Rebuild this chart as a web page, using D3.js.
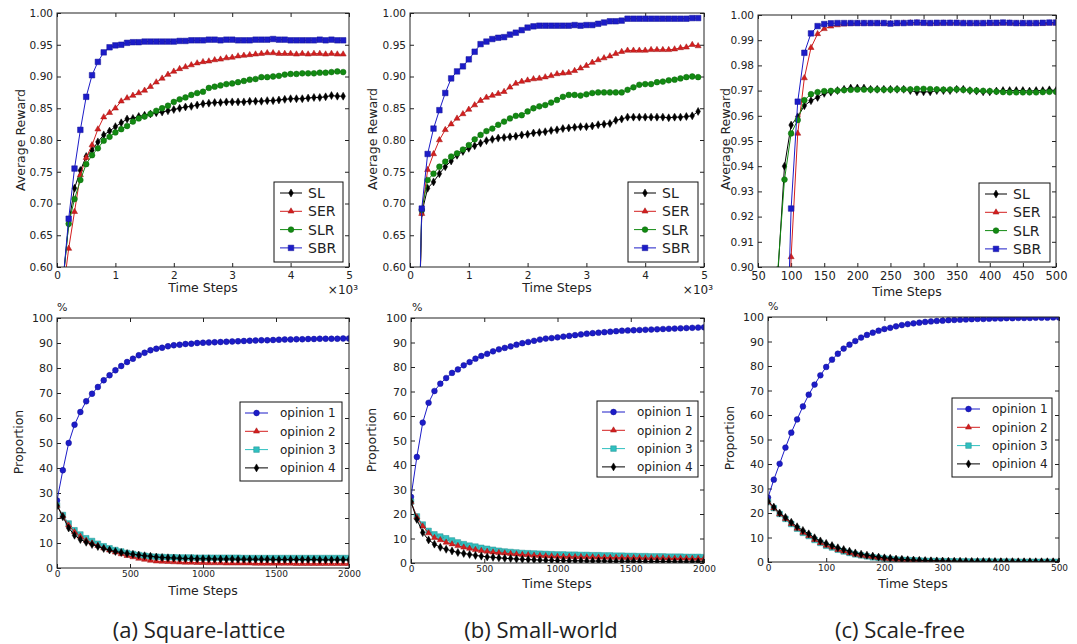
<!DOCTYPE html>
<html>
<head>
<meta charset="utf-8">
<script src="https://cdn.jsdelivr.net/npm/d3@7"></script>
<style>
body { margin: 0; background: #fff; }
text { font-family: "DejaVu Sans", sans-serif; fill: #222; }
.caption { font-family: "Open Sans", sans-serif; font-size: 22px; }
</style>
</head>
<body>
<script>
/* ---- data ---- */

// top row: average reward
var rewardSteps = [100,200,300,400,500,600,700,800,900,1000,
  1100,1200,1300,1400,1500,1600,1700,1800,1900,2000,
  2100,2200,2300,2400,2500,2600,2700,2800,2900,3000,
  3100,3200,3300,3400,3500,3600,3700,3800,3900,4000,
  4100,4200,4300,4400,4500,4600,4700,4800,4900];
var rewardTicksX = [0,1000,2000,3000,4000,5000];
var rewardTicksY = [0.60,0.65,0.70,0.75,0.80,0.85,0.90,0.95,1.00];

var latticeSL = [0.575,0.668,0.724,0.752,0.774,0.784,0.797,0.808,0.814,0.821,
  0.827,0.833,0.834,0.837,0.839,0.841,0.843,0.844,0.846,0.848,
  0.850,0.852,0.853,0.855,0.857,0.858,0.859,0.859,0.860,0.860,
  0.860,0.860,0.861,0.861,0.861,0.862,0.862,0.863,0.864,0.865,
  0.865,0.865,0.866,0.867,0.867,0.868,0.870,0.869,0.869];
var latticeSER = [0.556,0.629,0.687,0.745,0.772,0.792,0.817,0.836,0.843,0.850,
  0.861,0.866,0.870,0.874,0.878,0.884,0.891,0.897,0.903,0.908,
  0.912,0.915,0.918,0.921,0.923,0.924,0.926,0.927,0.929,0.930,
  0.932,0.933,0.934,0.935,0.936,0.937,0.937,0.936,0.936,0.936,
  0.935,0.936,0.935,0.936,0.936,0.935,0.936,0.935,0.935];
var latticeSLR = [0.575,0.668,0.707,0.737,0.762,0.776,0.787,0.799,0.805,0.812,
  0.817,0.822,0.829,0.834,0.837,0.841,0.846,0.850,0.854,0.860,
  0.864,0.867,0.871,0.874,0.876,0.882,0.884,0.886,0.888,0.889,
  0.891,0.893,0.895,0.896,0.899,0.899,0.900,0.901,0.903,0.904,
  0.904,0.905,0.905,0.905,0.906,0.906,0.907,0.908,0.907];
var latticeSBR = [0.575,0.676,0.755,0.816,0.868,0.902,0.923,0.938,0.946,0.949,
  0.950,0.953,0.954,0.954,0.955,0.955,0.955,0.955,0.955,0.955,
  0.956,0.956,0.957,0.957,0.957,0.958,0.958,0.957,0.958,0.958,
  0.957,0.957,0.957,0.958,0.958,0.958,0.959,0.958,0.958,0.957,
  0.957,0.957,0.957,0.957,0.958,0.957,0.958,0.957,0.957];

var smallSL = [0.30,0.685,0.724,0.734,0.747,0.758,0.767,0.776,0.782,0.787,
  0.791,0.795,0.799,0.801,0.803,0.804,0.805,0.806,0.808,0.809,
  0.811,0.812,0.813,0.815,0.816,0.818,0.819,0.820,0.821,0.821,
  0.822,0.824,0.825,0.826,0.831,0.833,0.836,0.836,0.836,0.836,
  0.836,0.836,0.836,0.835,0.836,0.836,0.837,0.838,0.845];
var smallSER = [0.30,0.684,0.753,0.778,0.800,0.816,0.825,0.834,0.841,0.848,
  0.855,0.862,0.867,0.870,0.873,0.876,0.883,0.889,0.892,0.894,
  0.896,0.897,0.899,0.901,0.904,0.905,0.906,0.909,0.913,0.917,
  0.922,0.926,0.929,0.932,0.936,0.939,0.941,0.941,0.941,0.941,
  0.942,0.942,0.942,0.942,0.943,0.945,0.946,0.950,0.948];
var smallSLR = [0.30,0.690,0.737,0.747,0.758,0.766,0.774,0.779,0.785,0.792,
  0.801,0.808,0.814,0.818,0.824,0.829,0.834,0.838,0.839,0.845,
  0.850,0.853,0.855,0.859,0.863,0.868,0.871,0.871,0.870,0.872,
  0.874,0.875,0.875,0.875,0.875,0.875,0.879,0.883,0.887,0.888,
  0.888,0.891,0.892,0.894,0.895,0.897,0.899,0.900,0.899];
var smallSBR = [0.30,0.692,0.778,0.818,0.847,0.874,0.897,0.908,0.916,0.927,
  0.939,0.951,0.955,0.959,0.961,0.962,0.966,0.969,0.973,0.977,
  0.979,0.980,0.980,0.980,0.980,0.980,0.980,0.981,0.980,0.981,
  0.981,0.983,0.985,0.987,0.987,0.988,0.991,0.991,0.991,0.991,
  0.991,0.991,0.991,0.991,0.991,0.991,0.991,0.992,0.992];

var freeSteps = [80,90,100,110,120,130,140,150,160,170,
  180,190,200,210,220,230,240,250,260,270,
  280,290,300,310,320,330,340,350,360,370,
  380,390,400,410,420,430,440,450,460,470,
  480,490,500];
var freeTicksX = [50,100,150,200,250,300,350,400,450,500];
var freeTicksY = [0.90,0.91,0.92,0.93,0.94,0.95,0.96,0.97,0.98,0.99,1.00];

var freeSL = [0.897,0.940,0.9563,0.9596,0.9640,0.9660,0.9673,0.9689,0.9694,0.9700,
  0.9705,0.9710,0.9710,0.9710,0.9705,0.9705,0.9705,0.9705,0.9705,0.9705,
  0.9700,0.9695,0.9695,0.9695,0.9700,0.9700,0.9700,0.9705,0.9705,0.9700,
  0.9698,0.9695,0.9695,0.9698,0.9700,0.9700,0.9700,0.9700,0.9698,0.9700,
  0.9700,0.9703,0.9700];
var freeSER = [0.60,0.80,0.904,0.953,0.975,0.987,0.9925,0.9945,0.9955,0.9960,
  0.9963,0.9965,0.9966,0.9966,0.9966,0.9966,0.9966,0.9965,0.9966,0.9967,
  0.9968,0.9968,0.9967,0.9966,0.9966,0.9967,0.9967,0.9967,0.9967,0.9966,
  0.9966,0.9966,0.9966,0.9966,0.9967,0.9967,0.9966,0.9966,0.9965,0.9966,
  0.9966,0.9967,0.9967];
var freeSLR = [0.899,0.9347,0.953,0.9583,0.9662,0.9686,0.9694,0.9698,0.9699,0.9700,
  0.9702,0.9703,0.9704,0.9704,0.9704,0.9704,0.9704,0.9704,0.9705,0.9705,
  0.9705,0.9707,0.9707,0.9706,0.9705,0.9704,0.9704,0.9705,0.9703,0.9701,
  0.9700,0.9699,0.9698,0.9696,0.9694,0.9693,0.9693,0.9693,0.9693,0.9693,
  0.9694,0.9695,0.9695];
var freeSBR = [0.60,0.83,0.9232,0.9656,0.985,0.9927,0.9956,0.9964,0.9967,0.9968,
  0.9968,0.9968,0.9968,0.9968,0.9968,0.9968,0.9968,0.9966,0.9968,0.9968,
  0.9969,0.9970,0.9969,0.9968,0.9969,0.9969,0.9969,0.9969,0.9968,0.9968,
  0.9968,0.9968,0.9969,0.9969,0.9970,0.9969,0.9968,0.9968,0.9968,0.9968,
  0.9969,0.9970,0.9970];

// bottom row: opinion proportions (%)
var opinionSteps = [0,40,80,120,160,200,240,280,320,360,400,440,480,520,560,600,640,680,720,760,800,840,880,920,960,1000,
  1040,1080,1120,1160,1200,1240,1280,1320,1360,1400,1440,1480,1520,1560,1600,1640,1680,1720,1760,1800,1840,1880,1920,1960,2000];
var opinionTicksX = [0,500,1000,1500,2000];
var percentTicksY = [0,10,20,30,40,50,60,70,80,90,100];

var latticeOp1 = [27,39.1,50.0,57.3,62.4,66.7,69.7,72.4,75.1,77.1,79.1,80.8,82.4,83.7,85.1,86.1,87.1,87.7,88.1,88.7,89.1,89.3,89.6,89.7,90.0,90.1,
  90.2,90.3,90.4,90.5,90.6,90.7,90.8,90.9,91.0,91.1,91.1,91.2,91.3,91.4,91.4,91.5,91.5,91.6,91.6,91.7,91.7,91.7,91.7,91.8,91.8];
var latticeOp2 = [25,20.8,17.1,14.4,12.6,11.0,9.9,8.9,7.9,7.1,6.3,5.6,4.9,4.4,3.8,3.4,3.0,2.7,2.6,2.5,2.4,2.3,2.2,2.2,2.1,2.1,
  2.0,2.0,2.0,1.9,1.9,1.9,1.9,1.9,1.8,1.8,1.8,1.8,1.8,1.8,1.8,1.7,1.7,1.7,1.7,1.7,1.7,1.7,1.7,1.7,1.7];
var latticeOp3 = [25,21.2,17.8,15.1,13.4,11.9,10.8,9.7,8.7,7.9,7.2,6.6,6.0,5.6,5.2,4.9,4.6,4.5,4.4,4.3,4.3,4.2,4.2,4.2,4.1,4.1,
  4.1,4.1,4.1,4.1,4.1,4.1,4.0,4.0,4.0,4.0,4.0,4.0,4.0,4.0,4.0,4.0,4.0,4.0,4.0,4.0,4.0,4.0,4.0,4.0,4.0];
var latticeOp4 = [25,20.5,16.0,13.1,11.4,10.3,9.4,8.6,7.8,7.2,6.6,6.2,5.8,5.5,5.2,4.9,4.7,4.4,4.2,4.1,4.0,3.9,3.8,3.8,3.7,3.7,
  3.7,3.6,3.6,3.6,3.6,3.5,3.5,3.5,3.5,3.5,3.5,3.4,3.4,3.4,3.4,3.4,3.4,3.4,3.4,3.3,3.3,3.3,3.3,3.3,3.3];

var smallOp1 = [27,43.3,57.3,65.4,70.2,73.2,75.5,77.6,79.0,80.7,82.0,83.4,84.5,85.4,86.4,87.2,87.8,88.4,89.1,89.7,90.2,90.7,91.2,91.6,91.8,92.1,
  92.4,92.7,93.0,93.3,93.6,93.8,94.0,94.2,94.4,94.6,94.8,94.9,95.0,95.1,95.2,95.3,95.4,95.5,95.6,95.7,95.8,95.9,96.0,96.1,96.2];
var smallOp2 = [25,18.7,15.0,12.2,10.3,9.4,8.4,7.7,7.0,6.4,5.9,5.4,5.0,4.7,4.4,4.2,4.0,3.8,3.6,3.4,3.3,3.1,3.0,2.9,2.8,2.7,
  2.6,2.6,2.5,2.5,2.4,2.4,2.3,2.3,2.2,2.2,2.2,2.1,2.1,2.1,2.0,2.0,2.0,2.0,1.9,1.9,1.9,1.9,1.8,1.8,1.8];
var smallOp3 = [25,19.0,15.7,13.1,11.7,10.8,10.1,9.2,8.4,7.7,7.1,6.7,6.2,5.8,5.4,5.0,4.7,4.5,4.3,4.1,4.0,3.9,3.8,3.7,3.6,3.5,
  3.5,3.4,3.4,3.3,3.3,3.2,3.2,3.1,3.1,3.0,3.0,2.9,2.9,2.8,2.8,2.7,2.7,2.7,2.6,2.6,2.6,2.5,2.5,2.5,2.4];
var smallOp4 = [25,17.8,12.4,9.4,7.7,6.4,5.6,4.9,4.3,3.9,3.5,3.1,2.8,2.5,2.3,2.1,1.9,1.8,1.6,1.5,1.4,1.3,1.2,1.1,1.1,1.0,
  1.0,0.9,0.9,0.9,0.8,0.8,0.8,0.8,0.7,0.7,0.7,0.7,0.7,0.6,0.6,0.6,0.6,0.6,0.6,0.5,0.5,0.5,0.5,0.5,0.5];

var freeOpSteps = [0,10,20,30,40,50,60,70,80,90,100,110,120,130,140,150,160,170,180,190,200,210,220,230,240,250,
  260,270,280,290,300,310,320,330,340,350,360,370,380,390,400,410,420,430,440,450,460,470,480,490,500];
var freeOpTicksX = [0,100,200,300,400,500];

var freeOp1 = [26.3,33.6,40.1,46.7,52.8,58.2,63.5,68.3,72.4,76.2,79.6,82.6,85.0,87.1,88.7,90.2,91.6,92.7,93.6,94.4,95.1,95.6,96.2,96.7,97.1,97.4,
  97.7,98.0,98.2,98.4,98.5,98.7,98.8,98.9,99.0,99.1,99.2,99.2,99.3,99.4,99.4,99.5,99.5,99.6,99.6,99.6,99.7,99.7,99.7,99.8,99.8];
var freeOp2 = [24.5,22.0,19.6,17.7,15.6,13.7,12.0,10.7,9.1,7.8,6.7,6.0,5.0,4.4,3.7,3.1,2.7,2.3,2.0,1.7,1.4,1.2,1.0,0.9,0.8,0.7,
  0.6,0.5,0.45,0.4,0.35,0.3,0.3,0.25,0.25,0.2,0.2,0.2,0.2,0.15,0.15,0.15,0.15,0.1,0.1,0.1,0.1,0.1,0.1,0.1,0.1];
var freeOp3 = [24.5,22.0,19.6,17.6,15.5,13.6,11.9,10.6,9.0,7.8,6.6,5.9,5.0,4.3,3.7,3.1,2.7,2.3,1.9,1.7,1.4,1.2,1.0,0.9,0.8,0.7,
  0.6,0.5,0.45,0.4,0.35,0.3,0.3,0.25,0.25,0.2,0.2,0.2,0.2,0.15,0.15,0.15,0.15,0.1,0.1,0.1,0.1,0.1,0.1,0.1,0.1];
var freeOp4 = [24.8,22.4,20.0,18.2,16.2,14.4,12.9,11.5,9.9,8.6,7.6,6.7,5.8,5.1,4.4,3.7,3.2,2.8,2.4,2.0,1.7,1.5,1.2,1.1,0.9,0.8,
  0.7,0.6,0.5,0.45,0.4,0.35,0.3,0.3,0.25,0.25,0.2,0.2,0.2,0.2,0.15,0.15,0.15,0.1,0.1,0.1,0.1,0.1,0.1,0.1,0.1];

var rewardNames = ["SL", "SER", "SLR", "SBR"];
var opinionNames = ["opinion 1", "opinion 2", "opinion 3", "opinion 4"];
var captions = ["(a) Square-lattice", "(b) Small-world", "(c) Scale-free"];

/* ---- styles ---- */
var BLACK = "#000", RED = "#d41f1f", GREEN = "#128a12", BLUE = "#1c1cc8", CYAN = "#30c0c0";

var thinDiamond = "M0,-4L2.3,0L0,4L-2.3,0Z";
var markers = {
  diamond: thinDiamond,
  triangle: d3.symbol(d3.symbolTriangle, 16)(),
  circle: d3.symbol(d3.symbolCircle, 26)(),
  square: d3.symbol(d3.symbolSquare, 31)()
};

function rewardSeries(a, b, c, d) {
  return [
    {name: rewardNames[0], values: a, color: BLACK, marker: "diamond"},
    {name: rewardNames[1], values: b, color: RED, marker: "triangle"},
    {name: rewardNames[2], values: c, color: GREEN, marker: "circle"},
    {name: rewardNames[3], values: d, color: BLUE, marker: "square"}
  ];
}
function opinionSeries(a, b, c, d) {
  return [
    {name: opinionNames[0], values: a, color: BLUE, marker: "circle"},
    {name: opinionNames[1], values: b, color: RED, marker: "triangle"},
    {name: opinionNames[2], values: c, color: CYAN, marker: "square"},
    {name: opinionNames[3], values: d, color: BLACK, marker: "diamond"}
  ];
}

var fmt2 = d3.format(".2f");
var panels = [
  {id: "a1", left: 57, right: 349, top: 13, bottom: 267,
   xDomain: [0, 5000], xTicks: rewardTicksX, xFormat: function(d) { return d / 1000; },
   yDomain: [0.6, 1.0], yTicks: rewardTicksY, yFormat: fmt2, xFont: 10.5, yFont: 10.5, xPad: 5,
   steps: rewardSteps, series: rewardSeries(latticeSL, latticeSER, latticeSLR, latticeSBR), order: [0, 1, 2, 3],
   legend: {x: 274, y: 182, w: 69, h: 80, l1: 6, l2: 28, tx: 34, font: 14},
   ylabel: ["Average Reward", 25, 140], xlabel: ["Time Steps", 203, 292], exp: [358, 294]},
  {id: "b1", left: 410, right: 704, top: 13, bottom: 267,
   xDomain: [0, 5000], xTicks: rewardTicksX, xFormat: function(d) { return d / 1000; },
   yDomain: [0.6, 1.0], yTicks: rewardTicksY, yFormat: fmt2, xFont: 10.5, yFont: 10.5, xPad: 5,
   steps: rewardSteps, series: rewardSeries(smallSL, smallSER, smallSLR, smallSBR), order: [0, 1, 2, 3],
   legend: {x: 628, y: 182, w: 70, h: 80, l1: 6, l2: 28, tx: 34, font: 14},
   ylabel: ["Average Reward", 377, 139], xlabel: ["Time Steps", 557, 292], exp: [713, 294]},
  {id: "c1", left: 758, right: 1056, top: 15, bottom: 267,
   xDomain: [50, 500], xTicks: freeTicksX, xFormat: function(d) { return d; },
   yDomain: [0.9, 1.0], yTicks: freeTicksY, yFormat: fmt2, xFont: 11.5, yFont: 10.5, xPad: 5,
   steps: freeSteps, series: rewardSeries(freeSL, freeSER, freeSLR, freeSBR), order: [0, 1, 2, 3],
   legend: {x: 979, y: 183, w: 71, h: 79, l1: 6, l2: 28, tx: 34, font: 14},
   ylabel: ["Average Reward", 730, 139], xlabel: ["Time Steps", 907, 296]},
  {id: "a2", left: 57, right: 349, top: 318, bottom: 568,
   xDomain: [0, 2000], xTicks: opinionTicksX, xFormat: function(d) { return d; },
   yDomain: [0, 100], yTicks: percentTicksY, yFormat: function(d) { return d; }, xFont: 9, yFont: 11, xPad: 3,
   steps: opinionSteps, series: opinionSeries(latticeOp1, latticeOp2, latticeOp3, latticeOp4), order: [0, 2, 1, 3],
   legend: {x: 240, y: 402, w: 102, h: 79, l1: 5, l2: 28, tx: 40, font: 12},
   ylabel: ["Proportion", 23, 442], xlabel: ["Time Steps", 203, 595], pct: [57, 311]},
  {id: "b2", left: 411, right: 704, top: 318, bottom: 563,
   xDomain: [0, 2000], xTicks: opinionTicksX, xFormat: function(d) { return d; },
   yDomain: [0, 100], yTicks: percentTicksY, yFormat: function(d) { return d; }, xFont: 9, yFont: 11, xPad: 3,
   steps: opinionSteps, series: opinionSeries(smallOp1, smallOp2, smallOp3, smallOp4), order: [0, 2, 1, 3],
   legend: {x: 597, y: 401, w: 101, h: 76, l1: 5, l2: 28, tx: 40, font: 12},
   ylabel: ["Proportion", 376, 440], xlabel: ["Time Steps", 557, 588], pct: [412, 311]},
  {id: "c2", left: 768, right: 1059, top: 317, bottom: 562,
   xDomain: [0, 500], xTicks: freeOpTicksX, xFormat: function(d) { return d; },
   yDomain: [0, 100], yTicks: percentTicksY, yFormat: function(d) { return d; }, xFont: 9, yFont: 11, xPad: 3,
   steps: freeOpSteps, series: opinionSeries(freeOp1, freeOp2, freeOp3, freeOp4), order: [0, 2, 1, 3],
   legend: {x: 952, y: 398, w: 100, h: 79, l1: 5, l2: 28, tx: 40, font: 12},
   ylabel: ["Proportion", 734, 438], xlabel: ["Time Steps", 913, 588], pct: [768, 310]}
];

var svg = d3.select("body").append("svg")
  .attr("width", 1077).attr("height", 644);

function styleAxis(sel, size) {
  sel.attr("font-family", null).attr("font-size", size);
  sel.select(".domain").remove();
  sel.selectAll(".tick line").attr("stroke", "#222");
  sel.selectAll(".tick text").attr("fill", "#222");
}

function drawMarker(g, s, px, py) {
  g.append("path")
    .attr("transform", "translate(" + px + "," + py + ")")
    .attr("d", markers[s.marker])
    .attr("fill", s.color)
    .attr("stroke", d3.color(s.color).darker(0.8))
    .attr("stroke-width", 0.5);
}

function drawPanel(p) {
  var g = svg.append("g");
  var x = d3.scaleLinear().domain(p.xDomain).range([p.left, p.right]);
  var y = d3.scaleLinear().domain(p.yDomain).range([p.bottom, p.top]);

  svg.append("clipPath").attr("id", "clip-" + p.id)
    .append("rect")
    .attr("x", p.left).attr("y", p.top)
    .attr("width", p.right - p.left).attr("height", p.bottom - p.top);

  // inward ticks on all four sides
  g.append("g").attr("transform", "translate(0," + p.bottom + ")")
    .call(d3.axisBottom(x).tickValues(p.xTicks).tickFormat(p.xFormat).tickSize(-4).tickPadding(p.xPad))
    .call(styleAxis, p.xFont);
  g.append("g").attr("transform", "translate(0," + p.top + ")")
    .call(d3.axisTop(x).tickValues(p.xTicks).tickFormat("").tickSize(-4))
    .call(styleAxis, p.xFont);
  g.append("g").attr("transform", "translate(" + p.left + ",0)")
    .call(d3.axisLeft(y).tickValues(p.yTicks).tickFormat(p.yFormat).tickSize(-4).tickPadding(4))
    .call(styleAxis, p.yFont);
  g.append("g").attr("transform", "translate(" + p.right + ",0)")
    .call(d3.axisRight(y).tickValues(p.yTicks).tickFormat("").tickSize(-4))
    .call(styleAxis, p.yFont);

  // series: line then markers, in plotting order
  var plot = g.append("g").attr("clip-path", "url(#clip-" + p.id + ")");
  var line = d3.line().x(function(d) { return x(d[0]); }).y(function(d) { return y(d[1]); });
  p.order.forEach(function(k) {
    var s = p.series[k];
    var pts = p.steps.map(function(t, i) { return [t, s.values[i]]; });
    plot.append("path").datum(pts)
      .attr("d", line)
      .attr("fill", "none")
      .attr("stroke", s.color)
      .attr("stroke-width", 1);
    pts.forEach(function(d) { drawMarker(plot, s, x(d[0]), y(d[1])); });
  });

  // frame
  g.append("rect")
    .attr("x", p.left).attr("y", p.top)
    .attr("width", p.right - p.left).attr("height", p.bottom - p.top)
    .attr("fill", "none").attr("stroke", "#222").attr("stroke-width", 1);

  // legend
  var L = p.legend;
  var lg = g.append("g");
  lg.append("rect")
    .attr("x", L.x).attr("y", L.y).attr("width", L.w).attr("height", L.h)
    .attr("fill", "#fff").attr("stroke", "#111").attr("stroke-width", 1);
  p.series.forEach(function(s, i) {
    var yy = L.y + 11 + i * 18.3;
    lg.append("line")
      .attr("x1", L.x + L.l1).attr("x2", L.x + L.l2)
      .attr("y1", yy).attr("y2", yy)
      .attr("stroke", s.color).attr("stroke-width", 1);
    drawMarker(lg, s, L.x + (L.l1 + L.l2) / 2, yy);
    lg.append("text")
      .attr("x", L.x + L.tx).attr("y", yy).attr("dy", "0.36em")
      .attr("font-size", L.font)
      .text(s.name);
  });

  // axis labels
  g.append("text")
    .attr("transform", "translate(" + p.ylabel[1] + "," + p.ylabel[2] + ") rotate(-90)")
    .attr("text-anchor", "middle").attr("font-size", 12.5)
    .text(p.ylabel[0]);
  g.append("text")
    .attr("x", p.xlabel[1]).attr("y", p.xlabel[2])
    .attr("text-anchor", "middle").attr("font-size", 12.5)
    .text(p.xlabel[0]);
  if (p.exp) {
    g.append("text")
      .attr("x", p.exp[0]).attr("y", p.exp[1])
      .attr("text-anchor", "end").attr("font-size", 12)
      .text("\u00d710\u00b3");
  }
  if (p.pct) {
    g.append("text")
      .attr("x", p.pct[0]).attr("y", p.pct[1])
      .attr("font-size", 11)
      .text("%");
  }
}

panels.forEach(drawPanel);

// sub-figure captions
var captionX = [199, 541, 900];
svg.selectAll("text.caption")
  .data(captions)
  .enter().append("text")
  .attr("class", "caption")
  .attr("x", function(d, i) { return captionX[i]; })
  .attr("y", 638)
  .attr("text-anchor", "middle")
  .text(function(d) { return d; });
</script>
</body>
</html>
